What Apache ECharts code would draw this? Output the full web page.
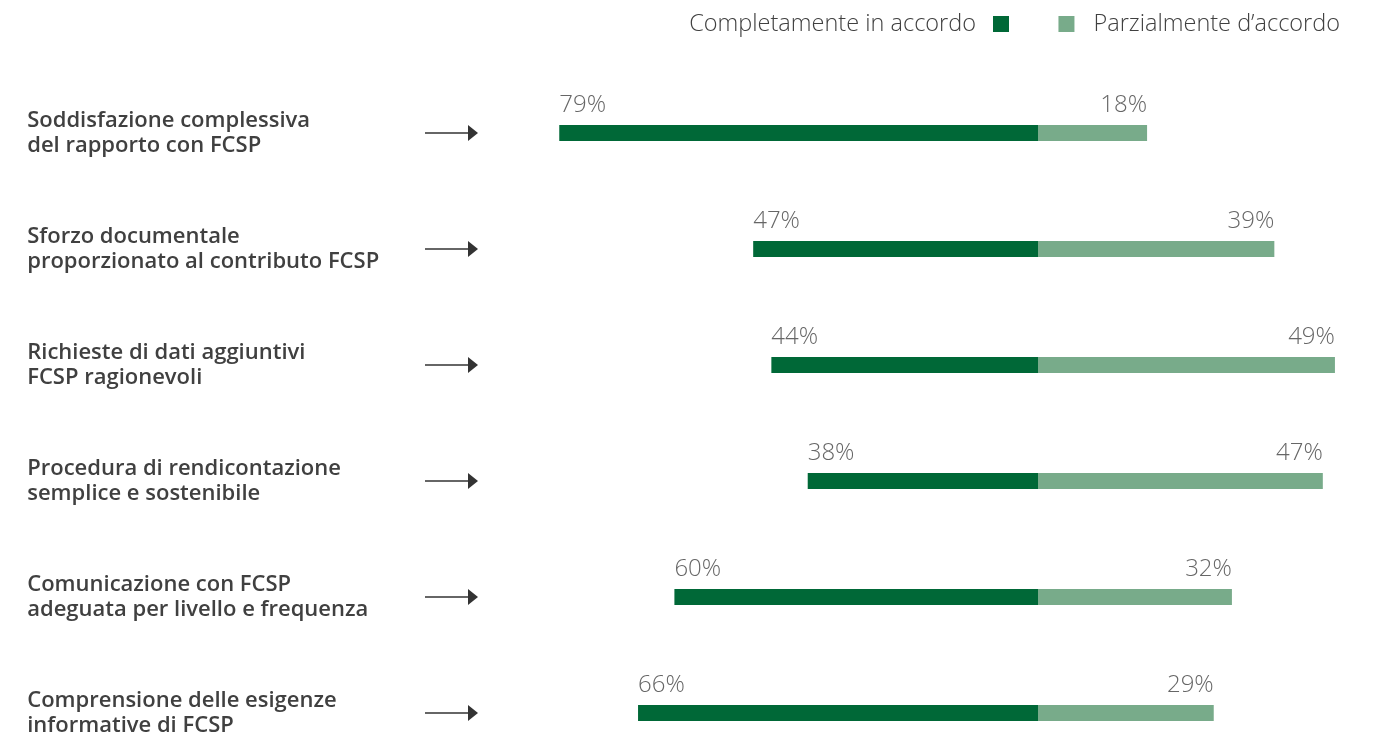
<!DOCTYPE html>
<html>
<head>
<meta charset="utf-8">
<script src="https://cdn.jsdelivr.net/npm/echarts@6/dist/echarts.min.js"></script>
<style>html,body{margin:0;padding:0;background:#fff;}#c{width:1377px;height:736px;}</style>
</head>
<body>
<div id="c"></div>
<script>
const categories = [
  'Soddisfazione complessiva\ndel rapporto con FCSP',
  'Sforzo documentale\nproporzionato al contributo FCSP',
  'Richieste di dati aggiuntivi\nFCSP ragionevoli',
  'Procedura di rendicontazione\nsemplice e sostenibile',
  'Comunicazione con FCSP\nadeguata per livello e frequenza',
  'Comprensione delle esigenze\ninformative di FCSP'
];
const seriesNames = ['Completamente in accordo', 'Parzialmente d\u2019accordo'];
const completamente = [79, 47, 44, 38, 60, 66];
const parzialmente = [18, 39, 49, 47, 32, 29];

const DARK = '#006837';
const LIGHT = '#78ab8a';
const TXT = '#404040';
const FONT = '"Open Sans", Lato, sans-serif';

const chart = echarts.init(document.getElementById('c'), null, {renderer: 'canvas'});

const labelStyle = {fontFamily: FONT, fontSize: 24, fontWeight: 300, color: TXT};

chart.setOption({
  animation: false,
  textStyle: {fontFamily: FONT},
  legend: [
    {
      data: [seriesNames[0]], top: 7, right: 363, align: 'right',
      icon: 'rect', itemWidth: 16, itemHeight: 16, itemGap: 0,
      textStyle: {fontFamily: FONT, fontSize: 23.5, fontWeight: 300, color: TXT, padding: [0, 12, 0, 0]}
    },
    {
      data: [seriesNames[1]], top: 7, right: 32, align: 'left',
      icon: 'rect', itemWidth: 16, itemHeight: 16,
      textStyle: {fontFamily: FONT, fontSize: 23.5, fontWeight: 300, color: TXT, padding: [0, 0, 0, 14]}
    }
  ],
  grid: {left: 553.2, width: 818.1, top: 133, height: 580, outerBoundsMode: 'none', containLabel: false},
  xAxis: {type: 'value', min: -80, max: 55, show: false},
  yAxis: {
    type: 'category', data: categories, inverse: true, boundaryGap: false,
    axisLine: {show: false}, axisTick: {show: false}, splitLine: {show: false},
    axisLabel: {
      align: 'left', margin: 526, fontFamily: FONT, fontSize: 22, fontWeight: 600,
      color: TXT, lineHeight: 25, padding: [11, 0, 0, 0]
    }
  },
  series: [
    {
      name: seriesNames[0], type: 'bar', stack: 'a', barWidth: 16,
      itemStyle: {color: DARK},
      data: completamente.map(v => -v)
    },
    {
      name: seriesNames[1], type: 'bar', stack: 'a', barWidth: 16,
      itemStyle: {color: LIGHT},
      data: parzialmente
    },
    {
      type: 'scatter', symbolSize: 0, silent: true,
      data: completamente.map((v, i) => [-v, i]),
      label: Object.assign({show: true, position: 'top', distance: 16, align: 'left',
        formatter: p => (-p.value[0]) + '%'}, labelStyle)
    },
    {
      type: 'scatter', symbolSize: 0, silent: true,
      data: parzialmente.map((v, i) => [v, i]),
      label: Object.assign({show: true, position: 'top', distance: 16, align: 'right',
        formatter: p => p.value[0] + '%'}, labelStyle)
    },
    {
      type: 'custom', silent: true,
      data: categories.map((c, i) => [0, i]),
      renderItem: function (params, api) {
        const y = api.coord([0, api.value(1)])[1];
        return {
          type: 'group',
          children: [
            {type: 'line', shape: {x1: 425, y1: y, x2: 470, y2: y}, style: {stroke: '#333', lineWidth: 1.5}},
            {type: 'polygon', shape: {points: [[468, y - 8], [478, y], [468, y + 8]]}, style: {fill: '#333'}}
          ]
        };
      }
    }
  ]
});
</script>
</body>
</html>
